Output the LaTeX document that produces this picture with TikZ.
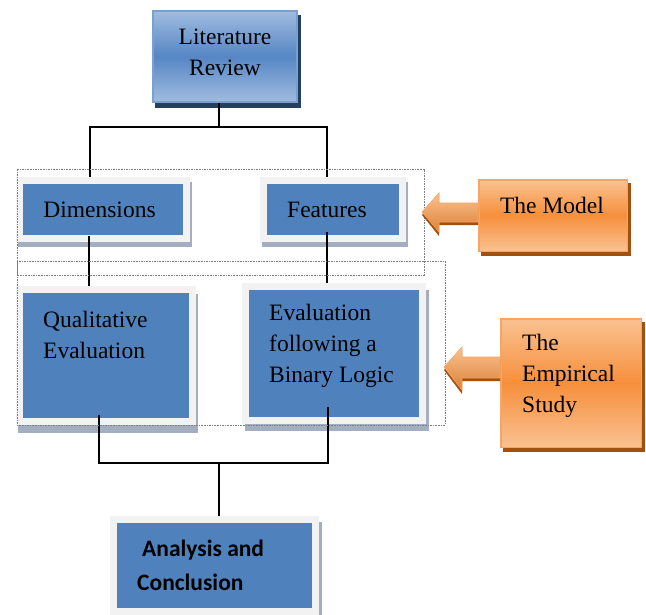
\documentclass[tikz,border=0pt]{standalone}
\usepackage{fontspec}
\setmainfont{Liberation Serif}
\newfontfamily\serifmain{Liberation Serif}
\newfontfamily\calibfont{Carlito}
\usetikzlibrary{backgrounds}
\definecolor{boxblue}{HTML}{4F81BD}
\definecolor{framegray}{HTML}{F2F2F2}
\definecolor{shadowgray}{HTML}{A3AFC0}
\definecolor{litlight}{HTML}{A0BCE0}
\definecolor{litmid}{HTML}{5686C4}
\definecolor{litborder}{HTML}{7AA0D0}
\definecolor{litshadow}{HTML}{24405F}
\definecolor{orlight}{HTML}{FAC291}
\definecolor{ormid}{HTML}{F68F3C}
\definecolor{orborder}{HTML}{F8A463}
\definecolor{orshadow}{HTML}{A0500F}
\definecolor{dashgray}{HTML}{7F7F7F}
\tikzset{
  txt/.style={font=\serifmain\fontsize{23.5}{31}\selectfont, text=black, inner sep=0pt},
  framed/.style={fill=boxblue, draw=framegray, line width=7pt, outer sep=3.5pt, inner sep=0pt},
  litbox/.style={shading=axis, top color=litlight, bottom color=litlight, middle color=litmid,
    draw=litborder, line width=2pt, outer sep=1pt, align=center, txt},
  orbox/.style={shading=axis, top color=orlight, bottom color=orlight, middle color=ormid,
    draw=orborder, line width=1.5pt, outer sep=0.75pt, inner sep=0pt},
  orarrow/.style={shading=axis, top color=orlight, bottom color=ormid!90!black, draw=orborder, line width=0.6pt},
  conn/.style={draw=black, line width=1.3pt},
  dashbox/.style={draw=dashgray, line width=0.7pt, dash pattern=on 1.6pt off 1pt},
  shadowbox/.style={fill=shadowgray},
}
\begin{document}
\begin{tikzpicture}[x=1pt,y=-1pt]
\useasboundingbox (0,0) rectangle (646,614);
\clip (0,0) rectangle (646,614);

% boxes
\node[litbox, minimum width=144pt, minimum height=91pt] (lit) at (225,56.5) {};
\node[framed, minimum width=167pt, minimum height=58pt, txt] (dim) at (103,209.5) {Dimensions\hspace*{7pt}};
\node[framed, minimum width=139pt, minimum height=58pt, txt] (feat) at (333,209.5) {Features\hspace*{12pt}};
\node[framed, minimum width=173pt, minimum height=132pt] (qual) at (106,355.5) {};
\node[framed, minimum width=177pt, minimum height=134pt] (bin) at (334,353.5) {};
\node[framed, minimum width=202pt, minimum height=92pt] (ana) at (214,565) {};
\node[orbox, minimum width=148.5pt, minimum height=71.5pt] (model) at (553,215.5) {};
\node[orbox, minimum width=140.5pt, minimum height=128.5pt] (emp) at (571,383) {};

% shadows
\begin{scope}[on background layer]
  \fill[litshadow] ([shift={(3pt,-5pt)}]lit.north west) rectangle ([shift={(3pt,-5pt)}]lit.south east);
  \fill[shadowbox] ([shift={(2pt,-5pt)}]dim.north west) rectangle ([shift={(2pt,-5pt)}]dim.south east);
  \fill[shadowbox] ([shift={(2pt,-5pt)}]feat.north west) rectangle ([shift={(2pt,-5pt)}]feat.south east);
  \fill[shadowbox] ([shift={(2pt,-8pt)}]qual.north west) rectangle ([shift={(2pt,-8pt)}]qual.south east);
  \fill[shadowbox] ([shift={(3pt,-7pt)}]bin.north west) rectangle ([shift={(3pt,-7pt)}]bin.south east);
  \fill[shadowbox] ([shift={(3pt,-6pt)}]ana.north west) rectangle ([shift={(3pt,-6pt)}]ana.south east);
  \fill[orshadow] ([shift={(3pt,-4pt)}]model.north west) rectangle ([shift={(3pt,-4pt)}]model.south east);
  \fill[orshadow] ([shift={(3pt,-4pt)}]emp.north west) rectangle ([shift={(3pt,-4pt)}]emp.south east);
\end{scope}

% texts
\node[txt, align=center] (littxt) at (225,52) {Literature\\Review};
\node[txt, anchor=west, align=left] (qualtxt) at (43,334.5) {Qualitative\\Evaluation};
\node[txt, anchor=west, align=left] (bintxt) at (269,346) {Evaluation\\following a\\Binary Logic};
\node[txt, anchor=west, align=left, font=\calibfont\bfseries\fontsize{23.5}{34}\selectfont] (anatxt) at (137,565)
  {\hspace*{5pt}Analysis and\\Conclusion};
\node[txt] (modeltxt) at (552,205) {The Model};
\node[txt, anchor=west, align=left] (emptxt) at (522,376) {The\\Empirical\\Study};

% connectors
\coordinate (top) at (219,127);
\coordinate (bot) at (219,463);
\draw[conn] ([xshift=-6pt]lit.south) -- (top);
\draw[conn] ([xshift=-13pt]dim.north) |- (top) -| ([xshift=-6pt]feat.north);
\draw[conn] ([xshift=-14pt,yshift=6pt]dim.south) -- ([xshift=-17pt]qual.north);
\draw[conn] ([xshift=-6pt,yshift=10pt]feat.south) -- ([xshift=-7pt]bin.north);
\draw[conn] ([xshift=-7pt,yshift=10pt]qual.south) |- (bot) -| ([xshift=-6pt,yshift=17pt]bin.south);
\draw[conn] (bot) -- ([xshift=5pt]ana.north);

% dashed groups
\draw[dashbox] (17,169) rectangle (424,275);
\draw[dashbox] (17,261) rectangle (445,425);

% arrows
\fill[orshadow] (model.west |- 0,206) -- (439,206) -- (439,196) -- (422,215) -- (439,236) -- (439,225) -- (model.west |- 0,225) -- cycle;
\path[orarrow] (model.west |- 0,203) -- (439,203) -- (439,193) -- (422,212) -- (439,232) -- (439,222) -- (model.west |- 0,222) -- cycle;
\fill[orshadow] (emp.west |- 0,360) -- (462,360) -- (462,350) -- (444,370) -- (462,394) -- (462,381) -- (emp.west |- 0,381) -- cycle;
\path[orarrow] (emp.west |- 0,357) -- (462,357) -- (462,347) -- (444,367) -- (462,390) -- (462,378) -- (emp.west |- 0,378) -- cycle;
\end{tikzpicture}
\end{document}
